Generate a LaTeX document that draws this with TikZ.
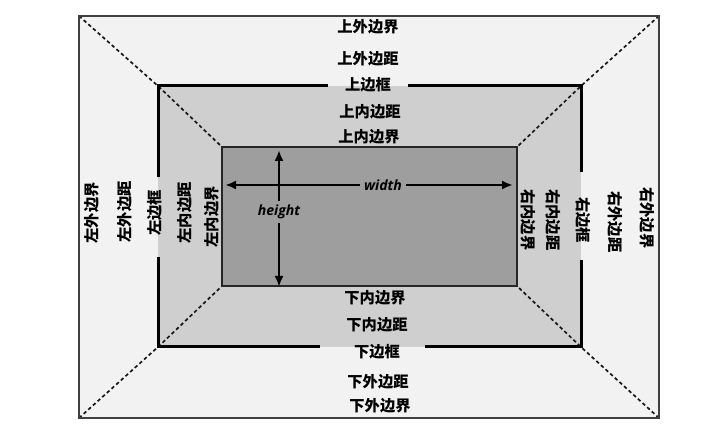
\documentclass[tikz,border=0pt]{standalone}
\usepackage{fontspec}
\usetikzlibrary{arrows.meta}
\newfontfamily\cjk{Noto Sans CJK SC}
\newfontfamily\latinfont{Open Sans}
\begin{document}
\begin{tikzpicture}[
    boxlabel/.style={font=\cjk\bfseries\fontsize{8.7}{10}\selectfont, inner sep=0.04cm},
    sizelabel/.style={font=\latinfont\bfseries\itshape\fontsize{8}{9}\selectfont, inner sep=0.08cm},
    borderline/.style={line width=0.060cm, line cap=butt},
    diagline/.style={line width=0.034cm, black!90, dash pattern=on 0.07cm off 0.055cm},
    sizearrow/.style={line width=0.045cm, -{Latex[length=0.22cm,width=0.18cm]}}
]
                \useasboundingbox (0,0) rectangle (14.480000,8.660000);
                
                % Corners of the three boxes
                \coordinate (outerNW) at (1.580000,8.340000);
                \coordinate (outerNE) at (13.180000,8.340000);
                \coordinate (outerSW) at (1.580000,0.300000);
                \coordinate (outerSE) at (13.180000,0.300000);
                \coordinate (borderNW) at (3.160000,6.940000);
                \coordinate (borderNE) at (11.620000,6.940000);
                \coordinate (borderSW) at (3.160000,1.720000);
                \coordinate (borderSE) at (11.620000,1.720000);
                \coordinate (contentNW) at (4.440000,5.720000);
                \coordinate (contentNE) at (10.340000,5.720000);
                \coordinate (contentSW) at (4.440000,2.940000);
                \coordinate (contentSE) at (10.340000,2.940000);
                
                % Filling margin, padding and content
                \fill [black!5] (outerSW) rectangle (outerNE);%
                \fill [black!19] (borderSW) rectangle (borderNE);%
                \fill [black!38] (contentSW) rectangle (contentNE);%
                
                % Drawing dashed diagonals
                \draw [diagline] (outerNW) -- (borderNW) -- (contentNW);%
                \draw [diagline] (outerNE) -- (borderNE) -- (contentNE);%
                \draw [diagline] (outerSW) -- (borderSW) -- (contentSW);%
                \draw [diagline] (outerSE) -- (borderSE) -- (contentSE);%
                
                % Drawing content edge
                \draw [line width=0.030cm, black!85] (contentSW) rectangle (contentNE);%
                
                % Drawing outer edge
                \draw [line width=0.025cm, black!75] (outerSW) rectangle (outerNE);%
                
                % Drawing border pieces
                \draw [borderline] (6.560000,6.940000) -- (borderNW) -- (3.160000,5.120000);%
                \draw [borderline] (8.160000,6.940000) -- (borderNE) -- (11.620000,5.220000);%
                \draw [borderline] (3.160000,3.520000) -- (borderSW) -- (6.400000,1.720000);%
                \draw [borderline] (8.500000,1.720000) -- (borderSE) -- (11.620000,3.460000);%
                
                % Marking top labels
                \draw (7.360000,8.120000) node (topouteredge) [boxlabel] {上外边界};%
                \draw (7.360000,7.480000) node (topmargin) [boxlabel] {上外边距};%
                \draw (7.360000,6.960000) node (topborder) [boxlabel] {上边框};%
                \draw (7.400000,6.420000) node (toppadding) [boxlabel] {上内边距};%
                \draw (7.380000,5.920000) node (topinneredge) [boxlabel] {上内边界};%
                
                % Marking bottom labels
                \draw (7.500000,2.700000) node (bottominneredge) [boxlabel] {下内边界};%
                \draw (7.540000,2.160000) node (bottompadding) [boxlabel] {下内边距};%
                \draw (7.540000,1.620000) node (bottomborder) [boxlabel] {下边框};%
                \draw (7.560000,1.020000) node (bottommargin) [boxlabel] {下外边距};%
                \draw (7.600000,0.540000) node (bottomouteredge) [boxlabel] {下外边界};%
                
                % Marking left labels
                \draw (1.840000,4.400000) node (leftouteredge) [boxlabel, rotate=90] {左外边界};%
                \draw (2.500000,4.420000) node (leftmargin) [boxlabel, rotate=90] {左外边距};%
                \draw (3.100000,4.400000) node (leftborder) [boxlabel, rotate=90] {左边框};%
                \draw (3.700000,4.400000) node (leftpadding) [boxlabel, rotate=90] {左内边距};%
                \draw (4.240000,4.320000) node (leftinneredge) [boxlabel, rotate=90] {左内边界};%
                
                % Marking right labels
                \draw (10.560000,4.260000) node (rightinneredge) [boxlabel, rotate=-90] {右内边界};%
                \draw (11.060000,4.260000) node (rightpadding) [boxlabel, rotate=-90] {右内边距};%
                \draw (11.660000,4.260000) node (rightborder) [boxlabel, rotate=-90] {右边框};%
                \draw (12.300000,4.220000) node (rightmargin) [boxlabel, rotate=-90] {右外边距};%
                \draw (12.940000,4.300000) node (rightouteredge) [boxlabel, rotate=-90] {右外边界};%
                
                % Drawing width and height arrows
                \draw (7.660000,4.960000) node (widthlabel) [sizelabel] {width};%
                \draw (5.580000,4.420000) node (heightlabel) [sizelabel] {height};%
                \coordinate (widthleft) at (4.500000,4.960000);
                \coordinate (widthright) at (10.260000,4.960000);
                \coordinate (heighttop) at (5.580000,5.660000);
                \coordinate (heightbottom) at (5.580000,2.920000);
                \draw [sizearrow] (widthlabel) -- (widthleft);%
                \draw [sizearrow] (widthlabel) -- (widthright);%
                \draw [sizearrow] (heightlabel) -- (heighttop);%
                \draw [sizearrow] (heightlabel) -- (heightbottom);%
\end{tikzpicture}
\end{document}
